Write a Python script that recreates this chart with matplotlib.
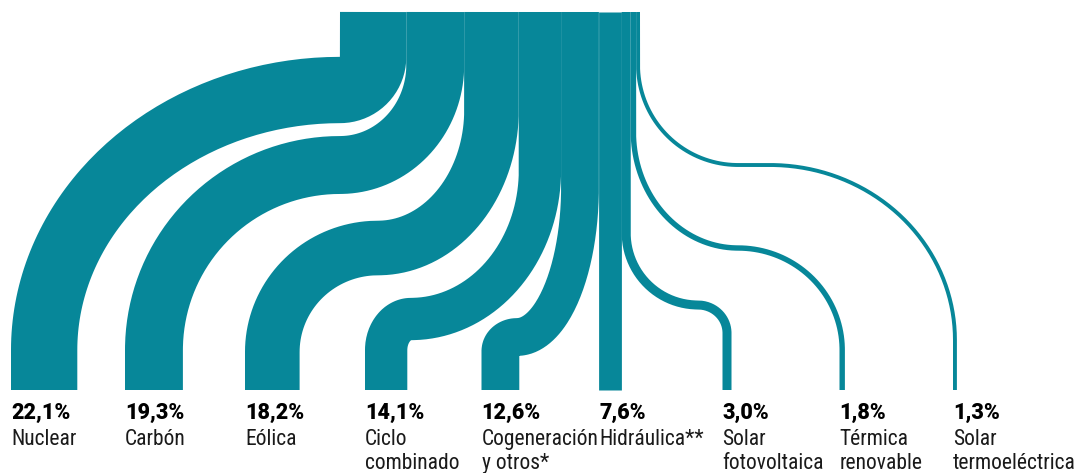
import numpy as np
import matplotlib
matplotlib.use('Agg')
import matplotlib.pyplot as plt
from matplotlib import font_manager

# cuota de generación eléctrica (%)
names = ['Nuclear', 'Carbón', 'Eólica', 'Ciclo\ncombinado', 'Cogeneración\ny otros*',
         'Hidráulica**', 'Solar\nfotovoltaica', 'Térmica\nrenovable', 'Solar\ntermoeléctrica']
shares = [22.1, 19.3, 18.2, 14.1, 12.6, 7.6, 3.0, 1.8, 1.3]

# colocación de cada cinta (px): borde izq. abajo, inicio del giro, altura del tramo horizontal,
# x fin del primer giro, x inicio del segundo giro, fin del segundo giro
bottom_left = [11, 125, 245, 365, 481.5, 599, 722.5, 839.5, 953]
y_turn = [57, 65, 110, 170, 187, None, 233, 132, 65]
y_horiz = [90, 165, 248, 319, 337, None, 305, 248, 165]
x_turn1 = [340, 340, 378, 411, 517, None, 698, 738, 738]
x_turn2 = [340, 340, 378, 411, 517, None, 698, 738, 770]
y_end = [350, 350, 352, 350, 351, None, 333, 350, 340]

W, H, DPI = 1081, 473, 100
COLOR = '#078799'
SCALE = 3.0      # px por punto porcentual
TOP_X = 340
TOP_Y = 12
BOTTOM_Y = 390

fig = plt.figure(figsize=(W / DPI, H / DPI), dpi=DPI)
ax = fig.add_axes([0, 0, 1, 1])
ax.set_xlim(0, W)
ax.set_ylim(H, 0)
ax.axis('off')

t = np.linspace(0, np.pi / 2, 80)
x_left = TOP_X
for i, s in enumerate(shares):
    w = s * SCALE
    xt = x_left + w / 2
    x_left += w
    xb = bottom_left[i] + w / 2
    if y_turn[i] is None:
        xs = [xt, xt]
        ys = [TOP_Y, BOTTOM_Y]
    else:
        yt, yh, x1, x2, ye = y_turn[i], y_horiz[i], x_turn1[i], x_turn2[i], y_end[i]
        # primer giro: de vertical a horizontal
        ax1 = x1 + (xt - x1) * np.cos(t)
        ay1 = yt + (yh - yt) * np.sin(t)
        # segundo giro: de horizontal a vertical
        ax2 = x2 + (xb - x2) * np.sin(t)
        ay2 = ye - (ye - yh) * np.cos(t)
        xs = np.concatenate([[xt], ax1, ax2, [xb]])
        ys = np.concatenate([[TOP_Y], ay1, ay2, [BOTTOM_Y]])
    ax.plot(xs, ys, color=COLOR, lw=w * 72 / DPI,
            solid_capstyle='butt', solid_joinstyle='round')

# fuente estrecha para los nombres, si hay alguna
installed = {f.name for f in font_manager.fontManager.ttflist}
narrow = [f for f in ['Roboto Condensed', 'Liberation Sans Narrow', 'Open Sans Condensed']
          if f in installed]
if narrow:
    name_font, name_size = [narrow[0], 'DejaVu Sans'], 15.5
else:
    name_font, name_size = ['Roboto', 'DejaVu Sans'], 13.8

pct_font = ['Roboto', 'Liberation Sans', 'DejaVu Sans']
for i, s in enumerate(shares):
    x = bottom_left[i]
    ax.text(x, 419, f'{s:.1f}'.replace('.', ',') + '%', family=pct_font,
            fontsize=15.5, fontweight='black', color='#000000', va='baseline', ha='left')
    for j, line in enumerate(names[i].split('\n')):
        ax.text(x, 445 + 24 * j, line, family=name_font, fontsize=name_size,
                color='#1a1a1a', va='baseline', ha='left')

fig.savefig('out.png', dpi=DPI)
